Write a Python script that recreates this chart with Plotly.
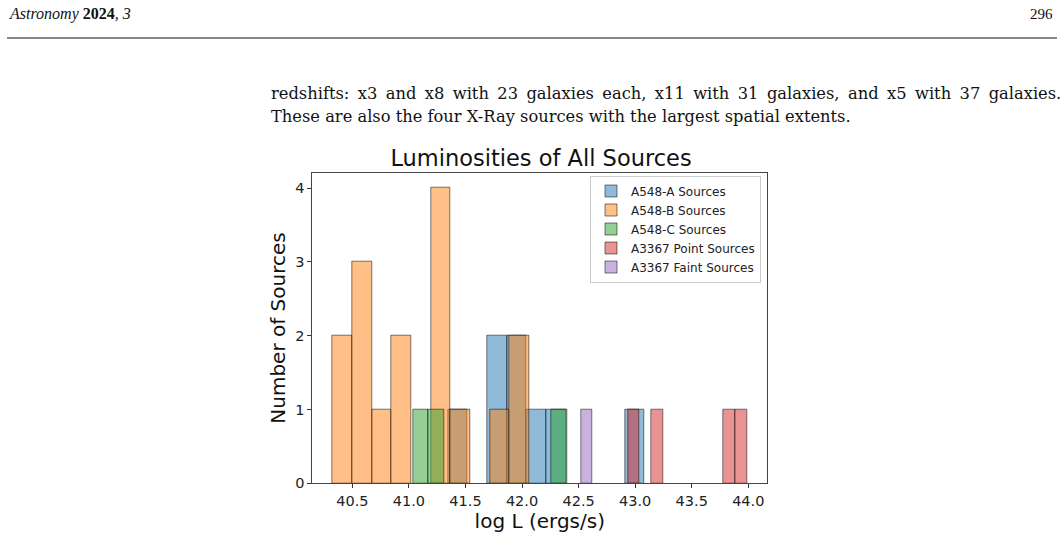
import numpy as np
import plotly.graph_objects as go

W, H = 1064, 533

# ---- data ----
series_names = ["A548-A Sources", "A548-B Sources", "A548-C Sources",
                "A3367 Point Sources", "A3367 Faint Sources"]
bin_start = [41.346, 40.327, 41.039, 42.935, 42.022]
bin_width = [0.1739, 0.1738, 0.1357, 0.1052, 0.1]
counts_a548a = [1, 0, 2, 2, 1, 1, 0, 0, 0, 1]
counts_a548b = [2, 3, 1, 2, 0, 4, 1, 0, 1, 2]
counts_a548c = [1, 1, 0, 0, 0, 0, 0, 0, 0, 1]
counts_a3367p = [1, 0, 1, 0, 0, 0, 0, 0, 1, 1]
counts_a3367f = [0, 0, 0, 0, 0, 1, 0, 0, 0, 0]
all_counts = [counts_a548a, counts_a548b, counts_a548c, counts_a3367p, counts_a3367f]

x_ticks = [40.5, 41.0, 41.5, 42.0, 42.5, 43.0, 43.5, 44.0]
y_ticks = [0, 1, 2, 3, 4]

colors = ["31,119,180", "255,127,14", "44,160,44", "214,39,40", "148,103,189"]

body_line1 = "redshifts: x3 and x8 with 23 galaxies each, x11 with 31 galaxies, and x5 with 37 galaxies."
body_line2 = "These are also the four X-Ray sources with the largest spatial extents."

def px(x):
    return x / W

def py(y):
    return 1 - y / H

fig = go.Figure()
for name, start, width, counts, col in zip(series_names, bin_start, bin_width, all_counts, colors):
    counts = np.asarray(counts)
    edges = start + width * np.arange(len(counts) + 1)
    centers = (edges[:-1] + edges[1:]) / 2
    keep = counts > 0
    fig.add_trace(go.Bar(
        x=centers[keep], y=counts[keep], width=[width] * int(keep.sum()), name=name,
        marker=dict(color=f"rgba({col},0.5)", line=dict(color="rgba(0,0,0,0.5)", width=1)),
    ))

axis_font = dict(family="DejaVu Sans", size=14.5, color="#222")
fig.update_layout(
    width=W, height=H,
    margin=dict(l=0, r=0, t=0, b=0),
    paper_bgcolor="white", plot_bgcolor="white",
    barmode="overlay", bargap=0,
    showlegend=True,
    legend=dict(x=px(761), y=py(175.5), xanchor="right", yanchor="top",
                bgcolor="white", bordercolor="#cccccc", borderwidth=1,
                font=dict(family="DejaVu Sans", size=12, color="#222"),
                itemclick=False),
    title=dict(text="Luminosities of All Sources", x=px(541), y=py(158.5),
               xanchor="center", yanchor="middle", xref="paper", yref="paper",
               font=dict(family="DejaVu Sans", size=22.5, color="#111")),
    xaxis=dict(domain=[px(312.3), px(767.3)], range=[40.146, 44.168],
               tickvals=x_ticks, ticktext=[f"{v:.1f}" for v in x_ticks],
               ticks="outside", ticklen=4, tickcolor="#333", tickwidth=1,
               showline=True, linecolor="#444", linewidth=1, mirror=True,
               showgrid=False, zeroline=False, tickfont=axis_font,
               automargin=False,
               title=dict(text="log L (ergs/s)", standoff=3,
                          font=dict(family="DejaVu Sans", size=20, color="#111"))),
    yaxis=dict(domain=[py(483.3), py(172.7)], range=[0, 4.21],
               tickvals=y_ticks, ticks="outside", ticklen=4, tickcolor="#333", tickwidth=1,
               showline=True, linecolor="#444", linewidth=1, mirror=True,
               showgrid=False, zeroline=False, tickfont=axis_font,
               automargin=False,
               title=dict(text="Number of Sources", standoff=4,
                          font=dict(family="DejaVu Sans", size=20, color="#111"))),
)

# ---- page text around the figure ----
serif = "Liberation Serif"
body_serif = "DejaVu Serif"
fig.add_annotation(text="<i>Astronomy</i> <b>2024</b><i>, 3</i>", x=px(7), y=py(13.5),
                   xref="paper", yref="paper", xanchor="left", yanchor="middle",
                   showarrow=False, font=dict(family=serif, size=16, color="#111"))
fig.add_annotation(text="296", x=px(1055), y=py(14.5),
                   xref="paper", yref="paper", xanchor="right", yanchor="middle",
                   showarrow=False, font=dict(family=serif, size=15, color="#111"))
fig.add_shape(type="line", xref="paper", yref="paper", x0=px(7), x1=px(1057),
              y0=py(38), y1=py(38), line=dict(color="#111", width=1.2))
# first line is justified in the page: widen its word spaces slightly
fig.add_annotation(text=body_line1.replace(" ", " \u2009"),
                   x=px(269), y=py(93), xref="paper", yref="paper", xanchor="left", yanchor="middle",
                   showarrow=False, font=dict(family=body_serif, size=16.3, color="#111"))
fig.add_annotation(text=body_line2,
                   x=px(269), y=py(117), xref="paper", yref="paper", xanchor="left", yanchor="middle",
                   showarrow=False, font=dict(family=body_serif, size=16.3, color="#111"))

fig.write_html("out.html")
